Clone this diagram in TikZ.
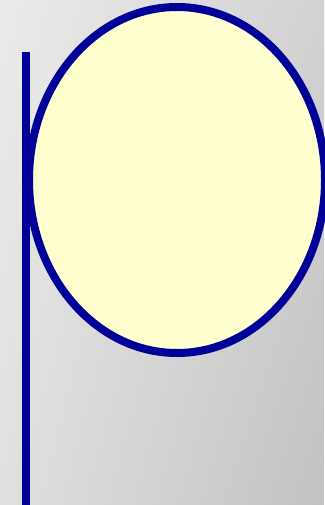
\documentclass[tikz,border=0pt]{standalone}
\usetikzlibrary{shadings}
\definecolor{bgA}{HTML}{EBEBEB}
\definecolor{bgB}{HTML}{C2C2C2}
\definecolor{bgC}{HTML}{D2D2D2}
\definecolor{bgD}{HTML}{E0E0E0}
\definecolor{strokeblue}{HTML}{000099}
\definecolor{fillyellow}{HTML}{FFFFD0}
\tikzset{
  ovalshape/.style={draw=strokeblue, line width=8pt, fill=fillyellow},
  barline/.style={draw=strokeblue, line width=8pt},
}
\begin{document}
\begin{tikzpicture}[x=1pt,y=-1pt]
\useasboundingbox (0,0) rectangle (324,505);
\shade[upper left=bgA, upper right=bgC, lower left=bgD, lower right=bgB] (0,0) rectangle (324,505);
\draw[barline] (26,52) -- (26,505);
\draw[ovalshape] (177,180) ellipse [x radius=148, y radius=173];
\end{tikzpicture}
\end{document}
